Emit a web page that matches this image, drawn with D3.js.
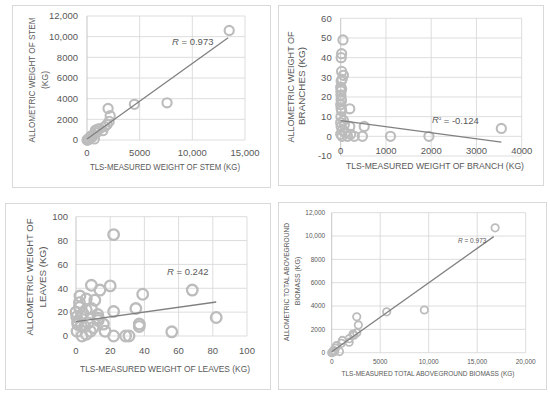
<!DOCTYPE html>
<html><head><meta charset="utf-8">
<script src="https://cdn.jsdelivr.net/npm/d3@7"></script>
<style>body{margin:0;background:#fff}svg{display:block}</style>
</head><body><svg id="c" width="550" height="396"></svg>
<script>
// ---------- DATA ----------
const stemX = [13500,7600,4500,2000,2200,2100,1900,1500,1000,800,900,600,400,700,300,200,100,50,0,150,1200,500,1700];
const stemY = [10600,3600,3450,3050,2350,1800,1500,900,1050,950,700,500,400,100,300,150,100,0,0,50,1100,300,1300];
const stemTicksX = [0,5000,10000,15000];
const stemTicksY = [0,2000,4000,6000,8000,10000,12000];
const stemTrendX = [0,13400];
const stemTrendY = [100,9900];

const branchX = [50,20,10,20,60,30,10,20,5,15,10,200,20,5,60,0,10,200,520,3550,100,30,150,300,480,1100,1950,220,0,80,10,0,0,40,5];
const branchY = [49,42,40,33,31,29,28,24,23,18,14,14,13,10,8,7,5,5,5,4,2,0,0,0,0,0,0,1,1,6,19,16,25,3,21];
const branchTicksX = [0,1000,2000,3000,4000];
const branchTicksY = [-10,0,10,20,30,40,50,60];
const branchTrendX = [0,3550];
const branchTrendY = [8,-3];

const leavesX = [22,9,20,14,68,39,2.3,6,11,2,9,22,35,0,12.7,0.4,13,82,13,16,37,3,7,8.4,17,22,29,31,56,3.5,0.6,1,5,10,6,3,2,4,6,1,37];
const leavesY = [85,42.5,42,38.5,38.5,35,33.5,31,30,24,23,20.5,23,20,18,16,15,15.5,13,10,10,8.5,11,4,4,0,0,0,3.5,0,4,12,8,7,1.5,17,28,19,22,10,8];
const leavesTicksX = [0,20,40,60,80,100];
const leavesTicksY = [0,20,40,60,80,100];
const leavesTrendX = [0,82];
const leavesTrendY = [12,28.5];

const totalX = [16850,9550,5670,2580,2750,2580,2300,1800,1800,1100,1000,800,500,400,200,100,0,300,2200];
const totalY = [10700,3660,3500,3080,2380,1700,1500,1200,900,1050,800,100,600,400,200,50,0,100,1600];
const totalTicksX = [0,5000,10000,15000,20000];
const totalTicksY = [0,2000,4000,6000,8000,10000,12000];
const totalTrendX = [0,16700];
const totalTrendY = [80,9950];

const xTitles = ["TLS-MEASURED WEIGHT OF STEM (KG)","TLS-MEASURED WEIGHT OF BRANCH (KG)","TLS-MEASURED WEIGHT OF LEAVES (KG)","TLS-MEASURED TOTAL ABOVEGROUND BIOMASS (KG)"];
const yTitles = [["ALLOMETRIC WEIGHT OF STEM","(KG)"],["ALLOMETRIC WEIGHT OF","BRANCHES (KG)"],["ALLOMETRIC WEIGHT OF","LEAVES (KG)"],["ALLOMETRIC TOTAL ABOVEGROUND","BIOMASS (KG)"]];
const statNames = ["R","R²","R","R"];
const statValues = ["0.973","-0.124","0.242","0.973"];

// ---------- DRAW ----------
const svg = d3.select("#c");
const FONT = "'Liberation Sans', Arial, sans-serif";
const TXT = "#595959";
const fmt = v => Math.abs(v) >= 10000 ? d3.format(",")(v) : String(v);

const panels = [
  {xs:stemX, ys:stemY, tx:stemTicksX, ty:stemTicksY, trX:stemTrendX, trY:stemTrendY,
   box:[12,5,258,182], xr:[87,245], yr:[140,16], r:4.6, sw:2.1, fs:9.5, tfs:9.5, ytfs:8.6,
   ylab:9, xlab:13, xt:[165,167,150], yt:[[32,80,125],[45,80,null]], st:[172,42], sfs:9.5},
  {xs:branchX, ys:branchY, tx:branchTicksX, ty:branchTicksY, trX:branchTrendX, trY:branchTrendY,
   box:[278,5,265,180], xr:[340.7,521.7], yr:[156,18.3], r:4.6, sw:2.1, fs:9.5, tfs:9.8, ytfs:9.8,
   ylab:9, xlab:14, xt:[435,166,178], yt:[[291,87,111],[302,86,null]], st:[432,120], sfs:9.5, xAt0:true},
  {xs:leavesX, ys:leavesY, tx:leavesTicksX, ty:leavesTicksY, trX:leavesTrendX, trY:leavesTrendY,
   box:[5,203,265,186], xr:[76,247], yr:[336,216.7], r:5.3, sw:2.3, fs:9.5, tfs:9.8, ytfs:9.8,
   ylab:8, xlab:15, xt:[165,369,170], yt:[[30,277,117],[43,277,null]], st:[167,272], sfs:9.5},
  {xs:totalX, ys:totalY, tx:totalTicksX, ty:totalTicksY, trX:totalTrendX, trY:totalTrendY,
   box:[278,202,268,187], xr:[331.7,525.7], yr:[352.7,212.7], r:3.7, sw:1.8, fs:6.5, tfs:7, ytfs:7,
   ylab:6.5, xlab:9.5, xt:[428,374,173], yt:[[286.7,282,118],[298,281,null]], st:[458,241], sfs:6.5}
];

panels.forEach((p, i) => {
  const g = svg.append("g");
  g.append("rect").attr("x",p.box[0]+0.5).attr("y",p.box[1]+0.5).attr("width",p.box[2]).attr("height",p.box[3])
    .attr("fill","#fff").attr("stroke","#d9d9d9").attr("stroke-width",1);
  const x = d3.scaleLinear().domain(d3.extent(p.tx)).range(p.xr);
  const y = d3.scaleLinear().domain(d3.extent(p.ty)).range(p.yr);
  g.selectAll(".hg").data(p.ty).join("line")
    .attr("x1",p.xr[0]).attr("x2",p.xr[1]).attr("y1",d=>y(d)).attr("y2",d=>y(d))
    .attr("stroke","#d9d9d9").attr("stroke-width",0.9);
  g.selectAll(".vg").data(p.tx).join("line")
    .attr("y1",p.yr[0]).attr("y2",p.yr[1]).attr("x1",d=>x(d)).attr("x2",d=>x(d))
    .attr("stroke", d => d===0 ? "#bfbfbf" : "#d9d9d9").attr("stroke-width",0.9);
  g.selectAll(".yl").data(p.ty).join("text")
    .attr("x",p.xr[0]-p.ylab).attr("y",d=>y(d)).attr("dy","0.35em").attr("text-anchor","end")
    .attr("font-family",FONT).attr("font-size",p.fs).attr("fill",TXT).text(fmt);
  const xBase = p.xAt0 ? y(0) : p.yr[0];
  g.selectAll(".xl").data(p.tx).join("text")
    .attr("x",d=>x(d)).attr("y",xBase+p.xlab).attr("dy","0.35em").attr("text-anchor","middle")
    .attr("font-family",FONT).attr("font-size",p.fs).attr("fill",TXT).text(fmt);
  g.append("text").attr("x",p.xt[0]).attr("y",p.xt[1]).attr("dy","0.35em").attr("text-anchor","middle")
    .attr("font-family",FONT).attr("font-size",p.tfs).attr("fill",TXT)
    .attr("textLength",p.xt[2]).attr("lengthAdjust","spacingAndGlyphs").text(xTitles[i]);
  yTitles[i].forEach((t, k) => {
    const pos = p.yt[k];
    const tt = g.append("text").attr("transform",`translate(${pos[0]},${pos[1]}) rotate(-90)`)
      .attr("dy","0.35em").attr("text-anchor","middle")
      .attr("font-family",FONT).attr("font-size",p.ytfs).attr("fill",TXT).text(t);
    if (pos[2]) tt.attr("textLength",pos[2]).attr("lengthAdjust","spacingAndGlyphs");
  });
  g.selectAll(".pt").data(p.xs.map((v,j)=>[v,p.ys[j]])).join("circle")
    .attr("cx",d=>x(d[0])).attr("cy",d=>y(d[1])).attr("r",p.r)
    .attr("fill","none").attr("stroke","#bcbcbc").attr("stroke-width",p.sw);
  g.append("line").attr("x1",x(p.trX[0])).attr("y1",y(p.trY[0])).attr("x2",x(p.trX[1])).attr("y2",y(p.trY[1]))
    .attr("stroke","#808080").attr("stroke-width",1.3);
  const st = g.append("text").attr("x",p.st[0]).attr("y",p.st[1]).attr("dy","0.35em")
    .attr("font-family",FONT).attr("font-size",p.sfs).attr("fill",TXT);
  const nm = statNames[i];
  st.append("tspan").attr("font-style","italic").text(nm[0]);
  if (nm.length > 1) st.append("tspan").attr("font-size",p.sfs*0.7).attr("dy","-0.4em").text(nm.slice(1));
  st.append("tspan").attr("dy", nm.length>1 ? "0.4em" : null).text(" = " + statValues[i]);
});
</script></body></html>
